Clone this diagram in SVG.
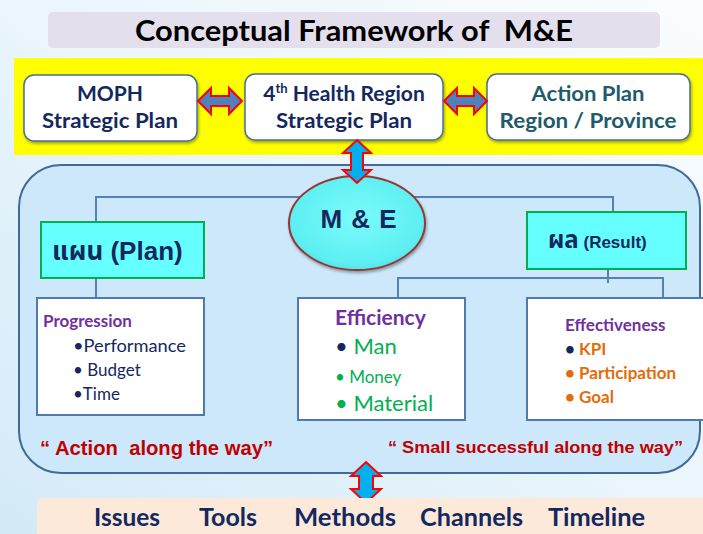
<svg xmlns="http://www.w3.org/2000/svg" width="703" height="534" viewBox="0 0 703 534">
  <defs>
    <linearGradient id="bg" x1="1" y1="0" x2="0" y2="1">
      <stop offset="0" stop-color="#FAFDFF"/>
      <stop offset="0.5" stop-color="#EAF5FC"/>
      <stop offset="1" stop-color="#D3EAF7"/>
    </linearGradient>
    <radialGradient id="ellFill" cx="0.5" cy="0.45" r="0.6">
      <stop offset="0" stop-color="#7AFBFB"/>
      <stop offset="0.8" stop-color="#5EEFF2"/>
      <stop offset="1" stop-color="#4FDCE3"/>
    </radialGradient>
    <filter id="shadow" x="-10%" y="-10%" width="130%" height="140%">
      <feGaussianBlur in="SourceAlpha" stdDeviation="1.5"/>
      <feOffset dx="1" dy="2" result="o"/>
      <feComponentTransfer><feFuncA type="linear" slope="0.35"/></feComponentTransfer>
      <feMerge><feMergeNode/><feMergeNode in="SourceGraphic"/></feMerge>
    </filter>
    <style>
      .t { font-family: Lato, "Open Sans", "Liberation Sans", sans-serif; font-weight: bold; }
      .r { font-family: Lato, "Open Sans", "Liberation Sans", sans-serif; font-weight: normal; }
      .a { font-family: "Liberation Sans", Arial, sans-serif; font-weight: bold; }
      .th { font-family: "Noto Sans Thai", "Noto Sans Thai UI", Loma, Garuda, "Tlwg Typo", "DejaVu Sans", sans-serif; font-weight: bold; }
      .topbox { fill: #FFFFFF; stroke: #4A6E9A; stroke-width: 1.5; }
      .navy { fill: #13285E; }
      .teal { fill: #215A6B; }
      .purple { fill: #7030A0; }
      .green { fill: #00B050; }
      .orange { fill: #E36C09; }
      .red { fill: #C00000; }
      .conn { stroke: #5680B8; stroke-width: 2; fill: none; }
      .hbox { fill: #66FFFF; stroke: #00B050; stroke-width: 2; }
      .ibox { fill: #FFFFFF; stroke: #4F7AB0; stroke-width: 2; }
      .harrow { fill: #4F81BD; stroke: #FF0000; stroke-width: 2; stroke-linejoin: miter; }
      .varrow { fill: #00B0F0; stroke: #FF0000; stroke-width: 2; stroke-linejoin: miter; }
    </style>
  </defs>

  <!-- background -->
  <rect x="0" y="0" width="703" height="534" fill="url(#bg)"/>

  <!-- title -->
  <g id="title">
    <rect x="48" y="12" width="612" height="36" rx="5" fill="#E4DFEC"/>
    <text x="354" y="41" text-anchor="middle" class="t" font-size="28" fill="#000000" textLength="438" lengthAdjust="spacingAndGlyphs">Conceptual Framework of&#160; M&amp;E</text>
  </g>

  <!-- yellow band of plans -->
  <rect x="14" y="58" width="689" height="97" fill="#FFFF00"/>

  <g id="moph">
    <rect class="topbox" x="24" y="75" width="173" height="66" rx="10" filter="url(#shadow)"/>
    <text x="110" y="101" text-anchor="middle" class="t navy" font-size="21">MOPH</text>
    <text x="110" y="128" text-anchor="middle" class="t navy" font-size="21" textLength="136" lengthAdjust="spacingAndGlyphs">Strategic Plan</text>
  </g>

  <g id="region4">
    <rect class="topbox" x="245" y="74" width="198" height="66" rx="10" filter="url(#shadow)"/>
    <text x="344" y="101" text-anchor="middle" class="t navy" font-size="21">4<tspan font-size="13" dy="-8">th</tspan><tspan dy="8"> Health Region</tspan></text>
    <text x="344" y="128" text-anchor="middle" class="t navy" font-size="21" textLength="136" lengthAdjust="spacingAndGlyphs">Strategic Plan</text>
  </g>

  <g id="actionplan">
    <rect class="topbox" x="487" y="74" width="203" height="66" rx="10" filter="url(#shadow)"/>
    <text x="588" y="101" text-anchor="middle" class="t teal" font-size="21" textLength="113" lengthAdjust="spacingAndGlyphs">Action Plan</text>
    <text x="588" y="128" text-anchor="middle" class="t teal" font-size="21" textLength="177" lengthAdjust="spacingAndGlyphs">Region / Province</text>
  </g>

  <!-- main M&E container -->
  <g id="container">
    <rect x="19" y="165" width="681" height="308" rx="42" fill="#CCE8FA" stroke="#3F6A9A" stroke-width="2"/>
  </g>

  <!-- connectors -->
  <g id="connectors">
    <path class="harrow" d="M198,101 L211,88 L211,96 L229,96 L229,88 L242,101 L229,114 L229,106 L211,106 L211,114 Z"/>
    <path class="harrow" d="M444,101 L457,88 L457,96 L474,96 L474,88 L487,101 L474,114 L474,106 L457,106 L457,114 Z"/>
    <path class="conn" d="M96,222 L96,197 L613,197 L613,212"/>
    <path class="conn" d="M96,278 L96,298"/>
    <path class="conn" d="M608,269 L608,283"/>
    <path class="conn" d="M398,298 L398,278 L663,278 L663,298"/>
  </g>

  <g id="me">
    <ellipse cx="357" cy="223" rx="68" ry="47" fill="url(#ellFill)" stroke="#953735" stroke-width="2" filter="url(#shadow)"/>
    <text x="359" y="228" text-anchor="middle" class="a navy" font-size="26" letter-spacing="1">M &amp; E</text>
  </g>

  <g id="arrows-vertical">
    <path class="varrow" d="M357,140 L371,153 L363,153 L363,170 L371,170 L357,183 L343,170 L351,170 L351,153 L343,153 Z"/>
    <path class="varrow" d="M366,462 L381,476 L373,476 L373,489 L381,489 L366,503 L351,489 L359,489 L359,476 L351,476 Z"/>
  </g>

  <g id="plan">
    <rect class="hbox" x="41" y="222" width="163" height="56"/>
    <text x="52" y="260" class="navy" font-size="26"><tspan class="th">แผน</tspan><tspan class="a"> (Plan)</tspan></text>
  </g>

  <g id="result">
    <rect class="hbox" x="527" y="212" width="159" height="57"/>
    <text x="548" y="248" class="navy" font-size="24"><tspan class="th">ผล</tspan><tspan class="a" font-size="17"> (Result)</tspan></text>
  </g>

  <g id="progression">
    <rect class="ibox" x="37" y="298" width="167" height="117"/>
    <text x="43" y="327" class="t purple" font-size="17">Progression</text>
    <text x="73" y="352" class="r navy" font-size="17" textLength="113" lengthAdjust="spacingAndGlyphs">•Performance</text>
    <text x="73" y="376" class="r navy" font-size="17">• Budget</text>
    <text x="73" y="400" class="r navy" font-size="17">•Time</text>
  </g>

  <g id="efficiency">
    <rect class="ibox" x="298" y="298" width="167" height="122"/>
    <text x="335" y="325" class="t purple" font-size="21">Efficiency</text>
    <text x="335" y="354" class="r" font-size="22"><tspan class="navy">•</tspan><tspan class="green"> Man</tspan></text>
    <text x="335" y="383" class="r green" font-size="17">• Money</text>
    <text x="335" y="411" class="r green" font-size="22">• Material</text>
  </g>

  <g id="effectiveness">
    <rect class="ibox" x="527" y="298" width="180" height="122"/>
    <text x="565" y="331" class="t purple" font-size="17">Effectiveness</text>
    <text x="565" y="355" class="t" font-size="17"><tspan class="navy">•</tspan><tspan class="orange"> KPI</tspan></text>
    <text x="565" y="379" class="t orange" font-size="17">• Participation</text>
    <text x="565" y="403" class="t orange" font-size="17">• Goal</text>
  </g>

  <g id="quotes">
    <text x="40" y="455" class="a red" font-size="20" textLength="233" lengthAdjust="spacingAndGlyphs">“ Action&#160; along the way”</text>
    <text x="388" y="453" class="a red" font-size="17" textLength="295" lengthAdjust="spacingAndGlyphs">“ Small successful along the way”</text>
  </g>

  <g id="aspects">
    <rect x="37" y="498" width="680" height="50" rx="6" fill="#FDE9D9"/>
    <text x="94" y="526" class="t navy" font-size="24" textLength="66" lengthAdjust="spacingAndGlyphs">Issues</text>
    <text x="199" y="526" class="t navy" font-size="24" textLength="58" lengthAdjust="spacingAndGlyphs">Tools</text>
    <text x="294" y="526" class="t navy" font-size="24" textLength="102" lengthAdjust="spacingAndGlyphs">Methods</text>
    <text x="420" y="526" class="t navy" font-size="24" textLength="103" lengthAdjust="spacingAndGlyphs">Channels</text>
    <text x="548" y="526" class="t navy" font-size="24" textLength="97" lengthAdjust="spacingAndGlyphs">Timeline</text>
  </g>
</svg>
